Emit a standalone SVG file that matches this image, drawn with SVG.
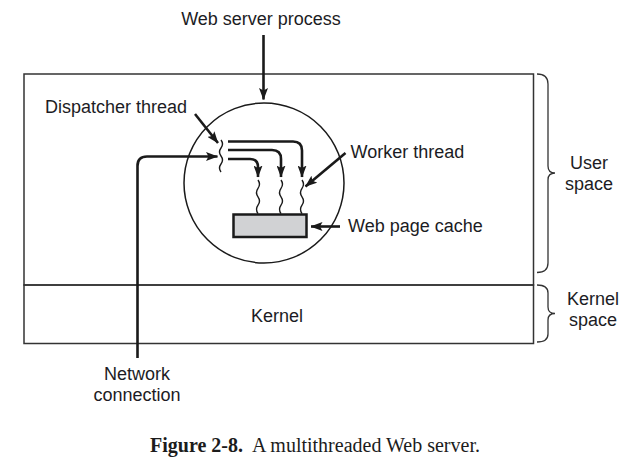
<svg xmlns="http://www.w3.org/2000/svg" width="640" height="468" viewBox="0 0 640 468">
  <style>
    .lbl { font-family: "Liberation Sans", Arial, sans-serif; font-size: 18px; fill: #1c1c24; }
    .cap { font-family: "Liberation Serif", "Times New Roman", serif; font-size: 20px; fill: #1c1c1c; }
    .frame { fill: none; stroke: #333; stroke-width: 1.5; }
    .brace { fill: none; stroke: #333; stroke-width: 1.3; }
    .arr { fill: none; stroke: #1a1a1a; stroke-width: 2.6; marker-end: url(#ah); }
    .wave { fill: none; stroke: #1a1a1a; stroke-width: 1.4; }
  </style>
  <defs>
    <marker id="ah" markerUnits="userSpaceOnUse" markerWidth="12" markerHeight="9" viewBox="0 0 12 9" refX="11.5" refY="4.5" orient="auto">
      <path d="M0,0 L12,4.5 L0,9 L2.5,4.5 Z" fill="#1a1a1a"/>
    </marker>
  </defs>
  <rect width="640" height="468" fill="#ffffff"/>

  <g id="title">
    <text class="lbl" x="261" y="25" text-anchor="middle">Web server process</text>
  </g>

  <g id="user-space">
    <rect class="frame" x="24" y="74" width="509.5" height="211"/>
    <path class="brace" d="M537,74 Q548,74 548,84 V166 Q548,173 555,173 Q548,173 548,180 V263 Q548,272.5 537,272.5"/>
    <text class="lbl" x="589" y="169" text-anchor="middle">User</text>
    <text class="lbl" x="589" y="190" text-anchor="middle">space</text>
  </g>

  <g id="kernel">
    <rect class="frame" x="24" y="285" width="509.5" height="58.5"/>
    <text class="lbl" x="277" y="322" text-anchor="middle">Kernel</text>
    <path class="brace" d="M537,285 Q548,285 548,293 V307 Q548,313.5 555,313.5 Q548,313.5 548,320 V334 Q548,342 537,342"/>
    <text class="lbl" x="593" y="305" text-anchor="middle">Kernel</text>
    <text class="lbl" x="593" y="326" text-anchor="middle">space</text>
  </g>

  <g id="process">
    <circle cx="264" cy="183" r="80" fill="none" stroke="#1a1a1a" stroke-width="1.5"/>
  </g>

  <g id="dispatcher-thread">
    <path class="wave" d="M221,140 q3,4 0,8 t0,8 t0,8 t0,8"/>
    <text class="lbl" x="45" y="113">Dispatcher thread</text>
  </g>

  <g id="worker-threads">
    <path class="wave" d="M258,180 q3,4.2 0,8.4 t0,8.4 t0,8.4 t0,8.4"/>
    <path class="wave" d="M281,180 q3,4.2 0,8.4 t0,8.4 t0,8.4 t0,8.4"/>
    <path class="wave" d="M302,180 q3,4.2 0,8.4 t0,8.4 t0,8.4 t0,8.4"/>
    <text class="lbl" x="350.5" y="157.5">Worker thread</text>
  </g>

  <g id="web-page-cache">
    <rect x="233.5" y="214.5" width="73" height="22.5" fill="#d1d2d4" stroke="#1a1a1a" stroke-width="2.5"/>
    <text class="lbl" x="348" y="232">Web page cache</text>
  </g>

  <g id="network-connection">
    <text class="lbl" x="137" y="380" text-anchor="middle">Network</text>
    <text class="lbl" x="137" y="401" text-anchor="middle">connection</text>
  </g>

  <g id="connectors">
    <path class="arr" d="M263.5,35 V99.5"/>
    <path class="arr" d="M195,114 L218,143"/>
    <path class="arr" d="M137.5,358 V166 Q137.5,156.5 147,156.5 H217.5"/>
    <path class="arr" d="M228,141.5 H293 Q302,141.5 302,150.5 V177"/>
    <path class="arr" d="M228,150 H272 Q281,150 281,159 V177"/>
    <path class="arr" d="M228,159 H250 Q258,159 258,167 V177"/>
    <path class="arr" d="M345.5,153 L305.5,186.5"/>
    <path class="arr" d="M340,226.5 L311,226.5"/>
  </g>

  <g id="caption">
    <text class="cap" y="452"><tspan x="150" font-weight="bold">Figure 2-8.</tspan><tspan x="252">A multithreaded Web server.</tspan></text>
  </g>
</svg>
